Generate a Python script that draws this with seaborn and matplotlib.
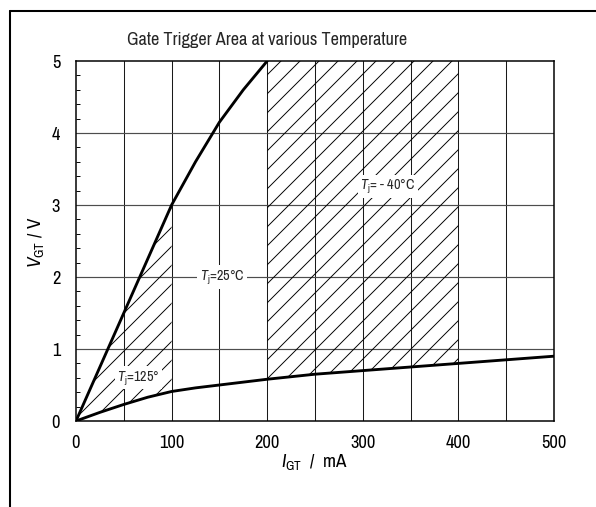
import matplotlib
matplotlib.use("Agg")
import matplotlib.pyplot as plt
import matplotlib.lines as mlines
import numpy as np
import pandas as pd
import seaborn as sns

# ---- data ----
igt_25 = [0, 25, 50, 75, 100, 125, 150, 175, 200]
vgt_25 = [0, 0.75, 1.5, 2.25, 3.0, 3.6, 4.15, 4.6, 5.0]

igt_125 = [0, 25, 50, 75, 100, 125, 150, 200, 250, 300, 350, 400, 450, 500]
vgt_125 = [0, 0.12, 0.23, 0.33, 0.41, 0.46, 0.50, 0.58, 0.65, 0.70, 0.75, 0.80, 0.85, 0.90]

area_25_igt = [0, 100]      # hatched trigger area at 25 °C (between the curves)
area_m40_igt = [200, 400]   # hatched trigger area at -40 °C (lower curve to 5 V)

x_ticks = [0, 100, 200, 300, 400, 500]
y_ticks = [0, 1, 2, 3, 4, 5]

title = "Gate Trigger Area at various Temperature"
label_25 = r"$T_{\rm j}$=25°C"
label_125 = r"$T_{\rm j}$=125°"
label_m40 = r"$T_{\rm j}$= - 40°C"

DPI = 114
W, H = 596, 508
FONT = "Archivo Narrow"

sns.set_theme(style="white")
plt.rcParams["font.family"] = [FONT, "Roboto Condensed", "Liberation Sans", "DejaVu Sans"]
plt.rcParams["mathtext.fontset"] = "custom"
plt.rcParams["mathtext.rm"] = FONT
plt.rcParams["mathtext.it"] = FONT + ":italic"
plt.rcParams["hatch.linewidth"] = 0.6

fig = plt.figure(figsize=(W / DPI, H / DPI), dpi=DPI)
ax = fig.add_axes([76 / W, (H - 422) / H, (554 - 76) / W, (422 - 62) / H])

df25 = pd.DataFrame({"I": igt_25, "V": vgt_25})
df125 = pd.DataFrame({"I": igt_125, "V": vgt_125})

lo = lambda xs: np.interp(xs, igt_125, vgt_125)
up = lambda xs: np.interp(xs, igt_25, vgt_25)

xa = np.linspace(area_25_igt[0], area_25_igt[1], 80)
ax.fill_between(xa, lo(xa), up(xa), facecolor="none",
                edgecolor="black", hatch="//", linewidth=0, zorder=1)
xb = np.linspace(area_m40_igt[0], area_m40_igt[1], 80)
ax.fill_between(xb, lo(xb), y_ticks[-1], facecolor="none",
                edgecolor="black", hatch="//", linewidth=0, zorder=1)

# grid
for gx in range(50, 500, 50):
    ax.axvline(gx, color="0.1", lw=0.65, zorder=0.5)
for gy in range(1, 5):
    ax.axhline(gy, color="0.3", lw=0.75, zorder=0.5)

sns.lineplot(data=df25, x="I", y="V", ax=ax, color="black", lw=1.8, zorder=3)
sns.lineplot(data=df125, x="I", y="V", ax=ax, color="black", lw=1.8, zorder=3)

ax.set_xlim(0, 500)
ax.set_ylim(0, 5)
ax.set_xticks(x_ticks)
ax.set_yticks(y_ticks)
ax.set_xticklabels([str(v) for v in x_ticks])
ax.set_yticklabels([str(v) for v in y_ticks])
ax.set_yticks(np.arange(0, 5.01, 0.2), minor=True)
ax.tick_params(axis="both", which="major", length=0, labelsize=11.6, colors="black")
ax.tick_params(axis="x", pad=8)
ax.tick_params(axis="y", pad=10)
ax.tick_params(axis="y", which="minor", direction="in", length=2.8, width=0.6,
               left=True, color="black")
for s in ax.spines.values():
    s.set_color("black")
    s.set_linewidth(0.95)

ax.set_xlabel(r"$\mathit{I}_{\rm GT}$  /  mA", fontsize=12, color="black")
ax.set_ylabel(r"$\mathit{V}_{\rm GT}$ / V", fontsize=12, color="black")
ax.xaxis.set_label_coords(0.5, -0.083)
ax.yaxis.set_label_coords(-0.062, 0.5)

bb = dict(facecolor="white", edgecolor="none", pad=1.5)
ax.text(153, 2.0, label_25, ha="center", va="center", fontsize=9, bbox=bb, zorder=4)
ax.text(65, 0.6, label_125, ha="center", va="center", fontsize=9, bbox=bb, zorder=4)
ax.text(326, 3.26, label_m40, ha="center", va="center", fontsize=9, bbox=bb, zorder=4)

fig.text(267 / W, 1 - 40 / H, title, ha="center", va="center", fontsize=11.5)

# page frame (top and left)
fig.add_artist(mlines.Line2D([10 / W, 1.0], [1 - 12 / H, 1 - 12 / H],
                             transform=fig.transFigure, color="black", lw=1.3))
fig.add_artist(mlines.Line2D([10 / W, 10 / W], [0, 1 - 12 / H],
                             transform=fig.transFigure, color="black", lw=1.3))

fig.savefig("out.png", dpi=DPI)
